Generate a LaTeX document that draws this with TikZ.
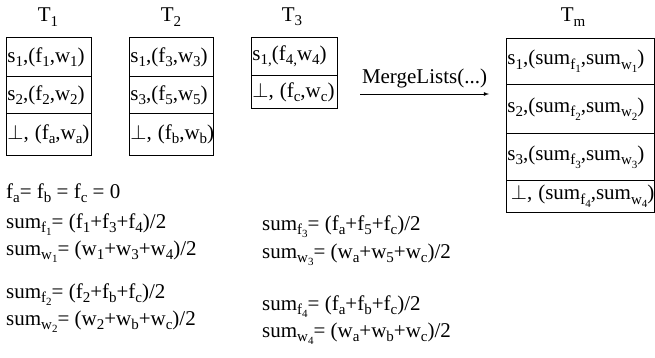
\documentclass[tikz,border=0pt]{standalone}
\usepackage{fontspec}
\setmainfont{Liberation Serif}
\newcommand\lo[1]{\raisebox{-0.45ex}{\fontsize{15}{15}\selectfont #1}}
\newcommand\llo[1]{\raisebox{-0.5ex}{\fontsize{11}{11}\selectfont #1}}
\newcommand\sm[2]{sum\lo{#1\llo{#2}}}
\begin{document}
\begin{tikzpicture}[x=1pt,y=-1pt,font=\fontsize{21}{23}\selectfont,
  cell/.style={draw,line width=0.8pt,anchor=north west,inner xsep=1pt,inner ysep=0pt,align=left},
  ttl/.style={anchor=center},
  eq/.style={anchor=base west,inner sep=0pt}]
\useasboundingbox (0,0) rectangle (655,358);
% T1
\node[ttl] (l1) at (48,17) {T\lo{1}};
\node[cell,minimum width=85,minimum height=39,text width=83] (t1a) at (6,37) {\mbox{s\lo{1},(f\lo{1},w\lo{1})}};
\node[cell,minimum width=85,minimum height=37,text width=83] (t1b) at (6,76) {\mbox{s\lo{2},(f\lo{2},w\lo{2})}};
\node[cell,minimum width=85,minimum height=42,text width=83] (t1c) at (6,113) {\mbox{$\perp$,\hspace{-1pt} (f\lo{a},w\lo{a})}};
% T2
\node[ttl] (l2) at (171,17) {T\lo{2}};
\node[cell,minimum width=84,minimum height=39,text width=82] (t2a) at (129,37) {\mbox{s\lo{1},(f\lo{3},w\lo{3})}};
\node[cell,minimum width=84,minimum height=37,text width=82] (t2b) at (129,76) {\mbox{s\lo{3},(f\lo{5},w\lo{5})}};
\node[cell,minimum width=84,minimum height=42,text width=82] (t2c) at (129,113) {\mbox{$\perp$,\hspace{-1pt} (f\lo{b},w\lo{b})}};
% T3
\node[ttl] (l3) at (292,17) {T\lo{3}};
\node[cell,minimum width=86,minimum height=38,text width=84] (t3a) at (251,37) {\mbox{s\lo{1,}(f\lo{4,}w\lo{4})}};
\node[cell,minimum width=86,minimum height=33,text width=84] (t3b) at (251,75) {\mbox{$\perp$,\hspace{-1pt} (f\lo{c},w\lo{c})}};
% Tm
\node[ttl] (lm) at (573,17) {T\lo{m}};
\node[cell,minimum width=148,minimum height=46,text width=146] (tma) at (506,38) {\mbox{s\lo{1},(\sm{f}{1},\sm{w}{1})}};
\node[cell,minimum width=148,minimum height=49,text width=146] (tmb) at (506,84) {\mbox{s\lo{2},(\sm{f}{2},\sm{w}{2})}};
\node[cell,minimum width=148,minimum height=47,text width=146] (tmc) at (506,133) {\mbox{s\lo{3},(\sm{f}{3},\sm{w}{3})}};
\node[cell,minimum width=148,minimum height=32,text width=146] (tmd) at (506,180) {\mbox{\,$\perp$,\hspace{-1pt} (\sm{f}{4},\sm{w}{4})}};
% arrow
\coordinate (as) at (360,94);
\coordinate (ae) at (489,94);
\draw[line width=0.8pt,-latex] (as) -- node[above=2pt] (ml) {MergeLists(...)} (ae);
% equations
\node[eq] (e0) at (6,198) {f\lo{a}= f\lo{b} = f\lo{c} = 0};
\node[eq] (e1) at (6,228) {\sm{f}{1}= (f\lo{1}+f\lo{3}+f\lo{4})/2};
\node[eq] (e2) at (6,255) {\sm{w}{1}= (w\lo{1}+w\lo{3}+w\lo{4})/2};
\node[eq] (e3) at (6,298) {\sm{f}{2}= (f\lo{2}+f\lo{b}+f\lo{c})/2};
\node[eq] (e4) at (6,325) {\sm{w}{2}= (w\lo{2}+w\lo{b}+w\lo{c})/2};
\node[eq] (e5) at (262,230) {\sm{f}{3}= (f\lo{a}+f\lo{5}+f\lo{c})/2};
\node[eq] (e6) at (262,258) {\sm{w}{3}= (w\lo{a}+w\lo{5}+w\lo{c})/2};
\node[eq] (e7) at (262,310) {\sm{f}{4}= (f\lo{a}+f\lo{b}+f\lo{c})/2};
\node[eq] (e8) at (262,337) {\sm{w}{4}= (w\lo{a}+w\lo{b}+w\lo{c})/2};
\end{tikzpicture}
\end{document}
